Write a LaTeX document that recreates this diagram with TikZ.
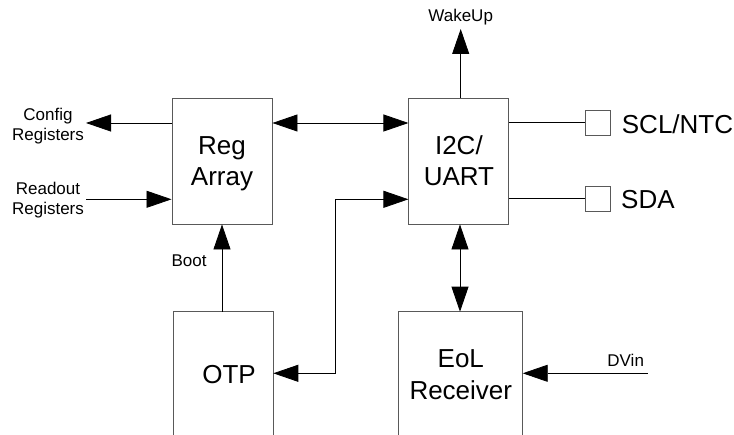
\documentclass[tikz,border=0pt]{standalone}
\usepackage{fontspec}
\setmainfont{Liberation Sans}
\usetikzlibrary{arrows.meta}
\tikzset{
  boxline/.style={draw=black!65, line width=0.9pt},
  blk/.style={boxline, rectangle, inner sep=0pt, minimum width=100pt, minimum height=126pt},
  pad/.style={boxline, rectangle, inner sep=0pt, minimum width=25pt, minimum height=25pt},
  wire/.style={draw=black, line width=0.8pt},
  tip/.tip={Triangle[length=25pt, width=17pt]},
  big/.style={font=\fontsize{26}{31}\selectfont, inner sep=0pt, anchor=base},
  small/.style={font=\fontsize{17}{19.8}\selectfont, inner sep=0pt, anchor=base},
}
\newcommand{\twolines}[2]{\begin{tabular}[t]{@{}c@{}}#1\\#2\end{tabular}}
\begin{document}
\begin{tikzpicture}[x=1pt, y=-1pt]
\useasboundingbox (0,0) rectangle (734,435);
% blocks
\node[blk] (reg) at (222,161) {};
\node[blk] (i2c) at (458.9,161) {};
\draw[boxline] (173.3,436) |- (273.3,311.7) coordinate (otpNE) -- (273.3,436);
\draw[boxline] (398.3,436) |- (522.7,311.7) coordinate (eolNE) -- (522.7,436);
\coordinate (otpN) at (222,311.7);
\coordinate (otpE) at (273.3,373.3);
\coordinate (eolN) at (460,311.7);
\coordinate (eolE) at (522.7,373.3);
% pads
\node[pad] (scl) at (597.5,122.5) {};
\node[pad] (sda) at (597.5,198.5) {};
% free ends
\coordinate (cfg) at (86,123);
\coordinate (rdo) at (86,199.3);
\coordinate (wake) at (460.7,29);
\coordinate (bend) at (335.7,199.3);
\coordinate (dvin) at (647.7,373.3);
% connectors
\draw[wire, -tip] (reg.west |- cfg) -- (cfg);
\draw[wire, -tip] (rdo) -- (reg.west |- rdo);
\draw[wire, tip-tip] (reg.east |- cfg) -- (i2c.west |- cfg);
\draw[wire, tip-tip] (otpE) -| (bend) -- (i2c.west |- bend);
\draw[wire, -tip] (otpN) -- (reg.south);
\draw[wire, tip-tip] (i2c.south -| eolN) -- (eolN);
\draw[wire, -tip] (i2c.north -| wake) -- (wake);
\draw[wire] (i2c.east |- scl) -- (scl.west);
\draw[wire] (i2c.east |- sda) -- (sda.west);
\draw[wire, -tip] (dvin) -- (eolE);
% texts
\node[small] (tcfg) at (48,120.7) {\twolines{Config}{Registers}};
\node[small] (trdo) at (48,195) {\twolines{Readout}{Registers}};
\node[small] (twake) at (460.7,22) {WakeUp};
\node[small] (tboot) at (189,266.7) {Boot};
\node[small] (tdvin) at (625.7,366.7) {DVin};
\node[big] (treg) at (222,154.3) {\twolines{Reg}{Array}};
\node[big] (ti2c) at (458.9,154.3) {\twolines{I2C/}{UART}};
\node[big] (totp) at (229,383.3) {OTP};
\node[big, font=\fontsize{26}{32.7}\selectfont] (teol) at (460.8,367.3) {\twolines{EoL}{Receiver}};
\node[big, anchor=base west] (tscl) at (621.7,133.3) {SCL/NTC};
\node[big, anchor=base west] (tsda) at (621,208.3) {SDA};
\end{tikzpicture}
\end{document}
